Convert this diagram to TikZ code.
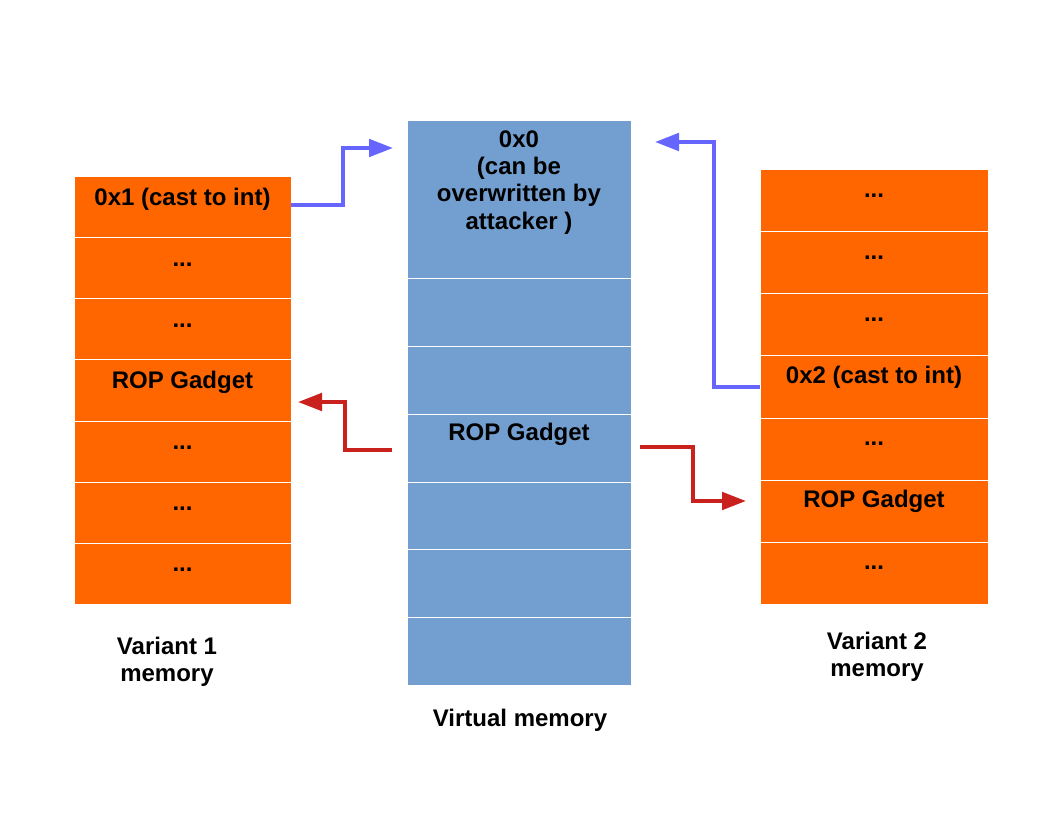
\documentclass[tikz,border=0pt]{standalone}
\usepackage{fontspec}
\setmainfont{Liberation Sans}
\usetikzlibrary{positioning,arrows.meta}
\definecolor{varorange}{HTML}{FF6600}
\definecolor{virtblue}{HTML}{729FCF}
\definecolor{ptrblue}{HTML}{6666FF}
\definecolor{gadred}{HTML}{C9211E}
\tikzset{memfont/.style={font=\fontsize{18}{20.5}\selectfont\bfseries}}
\tikzset{lcell/.style={memfont, draw=white, line width=0.75pt, fill=varorange, inner sep=0pt, outer sep=0pt, minimum width=162.75pt, minimum height=45.75pt, text height=21.5pt, text depth=24.25pt}}
\tikzset{rcell/.style={memfont, draw=white, line width=0.75pt, fill=varorange, inner sep=0pt, outer sep=0pt, minimum width=171pt, minimum height=46.5pt, text height=20.8pt, text depth=25.7pt}}
\tikzset{vcell/.style={memfont, draw=white, line width=0.75pt, fill=virtblue, inner sep=0pt, outer sep=0pt, minimum width=168pt, minimum height=50.75pt, text height=19.9pt, text depth=30.85pt}}
\tikzset{ptr/.style={-{Triangle[length=18pt,width=13pt]}, line width=3pt}}

\begin{document}
\begin{tikzpicture}[x=0.75pt, y=-0.75pt]
	\useasboundingbox (0,0) rectangle (1056,816);
	
	% variant 1
	\node[lcell, anchor=north west] (L1) at (74,177) {0x1 (cast to int)};
	\node[lcell] (L2) [below=0pt of L1] {...};
	\node[lcell] (L3) [below=0pt of L2] {...};
	\node[lcell] (L4) [below=0pt of L3] {ROP Gadget};
	\node[lcell] (L5) [below=0pt of L4] {...};
	\node[lcell] (L6) [below=0pt of L5] {...};
	\node[lcell] (L7) [below=0pt of L6] {...};
	
	% virtual memory
	\node[vcell, anchor=north west, minimum height=118.5pt, text height=19.6pt, text depth=98.9pt] (V1) at (407,121) {\begin{tabular}[t]{@{}c@{}}0x0\\(can be\\overwritten by\\attacker )\end{tabular}};
	\node[vcell] (V2) [below=0pt of V1] {};
	\node[vcell] (V3) [below=0pt of V2] {};
	\node[vcell] (V4) [below=0pt of V3] {ROP Gadget};
	\node[vcell] (V5) [below=0pt of V4] {};
	\node[vcell] (V6) [below=0pt of V5] {};
	\node[vcell] (V7) [below=0pt of V6] {};
	
	% variant 2
	\node[rcell, anchor=north west] (R1) at (760,170) {...};
	\node[rcell] (R2) [below=0pt of R1] {...};
	\node[rcell] (R3) [below=0pt of R2] {...};
	\node[rcell] (R4) [below=0pt of R3] {0x2 (cast to int)};
	\node[rcell] (R5) [below=0pt of R4] {...};
	\node[rcell] (R6) [below=0pt of R5] {ROP Gadget};
	\node[rcell] (R7) [below=0pt of R6] {...};
	
	\node[memfont, align=center] (var1) at (167,661.5) {Variant 1\\memory};
	\node[memfont] (virt) at (520,720) {Virtual memory};
	\node[memfont, align=center] (var2) at (877,657) {Variant 2\\memory};
	
	\coordinate (b1) at (393,148);
	\coordinate (b2) at (655,142);
	\coordinate (r1s) at (392,450);
	\coordinate (r1e) at (298,402);
	\coordinate (r2s) at (640,447);
	\coordinate (r2e) at (746,501);
	
	\draw[ptr, ptrblue] ([yshift=1.9pt]L1.east) -- ++(52,0) |- (b1);
	\draw[ptr, ptrblue] (R4.west) -- ++(-46,0) |- (b2);
	\draw[ptr, gadred] (r1s) -- ++(-47,0) |- (r1e);
	\draw[ptr, gadred] (r2s) -- ++(53,0) |- (r2e);
\end{tikzpicture}
\end{document}
